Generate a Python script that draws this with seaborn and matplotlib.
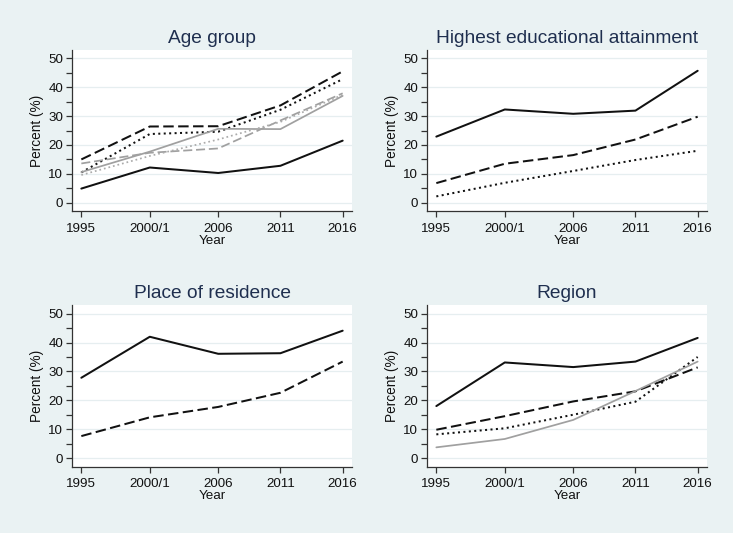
import matplotlib
matplotlib.use("Agg")
import matplotlib.pyplot as plt
import seaborn as sns
import numpy as np
import pandas as pd
from matplotlib.ticker import MultipleLocator, FixedLocator

# ---- data ----
year_labels = ["1995", "2000/1", "2006", "2011", "2016"]
year_pos = [1995, 2000.5, 2006, 2011, 2016]

age_s1 = [4.9, 12.2, 10.3, 12.8, 21.5]
age_s2 = [15.0, 26.4, 26.5, 33.7, 45.5]
age_s3 = [10.5, 23.8, 24.6, 32.2, 42.8]
age_s4 = [10.6, 17.7, 25.6, 25.5, 37.0]
age_s5 = [13.6, 17.3, 18.8, 28.5, 37.9]
age_s6 = [9.6, 16.2, 21.9, 28.0, 37.4]

edu_s1 = [22.9, 32.3, 30.8, 31.9, 45.7]
edu_s2 = [6.8, 13.5, 16.5, 21.9, 29.8]
edu_s3 = [2.2, 6.9, 11.0, 14.8, 18.0]

res_s1 = [27.8, 42.0, 36.1, 36.3, 44.1]
res_s2 = [7.6, 14.1, 17.7, 22.6, 33.4]

reg_s1 = [18.0, 33.1, 31.5, 33.4, 41.6]
reg_s2 = [9.8, 14.5, 19.6, 23.1, 31.4]
reg_s3 = [8.2, 10.3, 15.0, 19.5, 35.0]
reg_s4 = [3.7, 6.6, 13.2, 23.2, 33.4]

titles = ["Age group", "Highest educational attainment", "Place of residence", "Region"]

BLACK = "#111111"
GRAY = "#a0a0a0"
LGRAY = "#ababab"
SOLID = "-"
DASH = (0, (5.2, 2.2))
DOT = (0, (1.0, 1.7))

panels = [
    [(age_s1, BLACK, SOLID), (age_s2, BLACK, DASH), (age_s3, BLACK, DOT),
     (age_s4, GRAY, SOLID), (age_s5, GRAY, DASH), (age_s6, LGRAY, DOT)],
    [(edu_s1, BLACK, SOLID), (edu_s2, BLACK, DASH), (edu_s3, BLACK, DOT)],
    [(res_s1, BLACK, SOLID), (res_s2, BLACK, DASH)],
    [(reg_s1, BLACK, SOLID), (reg_s2, BLACK, DASH), (reg_s3, BLACK, DOT),
     (reg_s4, GRAY, SOLID)],
]

sns.set_theme(style="white")
plt.rcParams["font.family"] = ["Liberation Sans", "DejaVu Sans"]

BG = "#eaf2f3"
W, H = 733, 533
fig = plt.figure(figsize=(W / 100, H / 100), dpi=100, facecolor=BG)

# axes boxes in pixels: left, top, right, bottom
boxes = [(72, 49.7, 352, 211.4), (427, 49.7, 707, 211.4),
         (72, 305, 352, 466.7), (427, 305, 707, 466.7)]

for (l, t, r, b), series, title in zip(boxes, panels, titles):
    ax = fig.add_axes([l / W, 1 - b / H, (r - l) / W, (b - t) / H])
    ax.set_facecolor("white")
    for vals, col, ls in series:
        lw = 1.45 if col == BLACK else 1.25
        sns.lineplot(x=year_pos, y=vals, ax=ax, color=col, linestyle=ls,
                     linewidth=lw, zorder=3)
    ax.set_xlim(1994.25, 2016.75)
    ax.set_ylim(-3, 53)
    ax.xaxis.set_major_locator(FixedLocator(year_pos))
    ax.set_xticklabels(year_labels)
    ax.yaxis.set_major_locator(MultipleLocator(10))
    ax.yaxis.set_minor_locator(MultipleLocator(5))
    ax.grid(axis="y", which="major", color="#e6eef0", linewidth=0.9, zorder=0)
    ax.grid(axis="x", visible=False)
    for s in ["top", "right"]:
        ax.spines[s].set_visible(False)
    for s in ["left", "bottom"]:
        ax.spines[s].set_color("#333333")
        ax.spines[s].set_linewidth(0.9)
    ax.tick_params(axis="both", which="major", direction="out", length=4,
                   width=0.9, color="#333333", labelsize=9.6, labelcolor="#111111",
                   left=True, bottom=True, pad=2.5)
    ax.tick_params(axis="x", which="major", pad=4)
    ax.tick_params(axis="y", which="minor", direction="out", length=4,
                   width=0.9, color="#333333", left=True)
    ax.set_xlabel("Year", fontsize=9.6, color="#111111", labelpad=0)
    ax.set_ylabel("Percent (%)", fontsize=9.8, color="#111111", labelpad=3)
    ax.set_title(title, fontsize=13.8, color="#1f2f4f", pad=5)

fig.savefig("out.png", dpi=100, facecolor=BG)
